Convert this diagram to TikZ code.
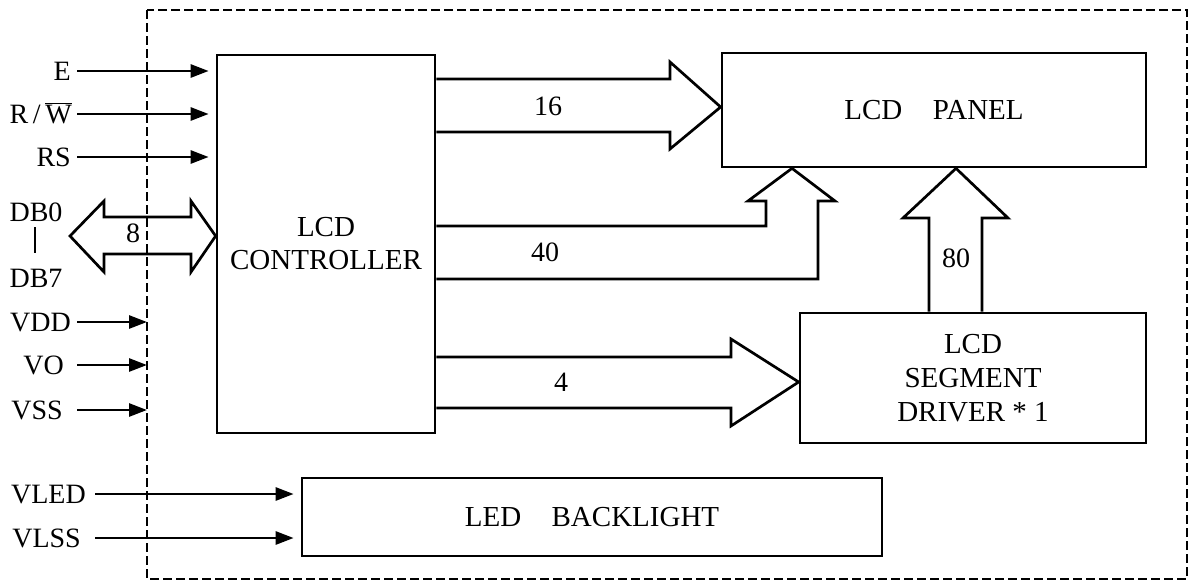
\documentclass[tikz,border=0pt]{standalone}
\usepackage{fontspec}
\setmainfont{Liberation Serif}
\usetikzlibrary{arrows.meta}
\begin{document}
\begin{tikzpicture}[x=1pt,y=-1pt,
  box/.style={draw,line width=2.7pt,inner sep=0pt,align=center,font=\fontsize{29}{33}\selectfont},
  lbl/.style={font=\fontsize{28}{32}\selectfont,inner sep=0pt},
  sig/.style={line width=2.7pt,-{Triangle[length=18pt,width=13pt]}},
  bus/.style={line width=2.7pt,line join=miter}]
\useasboundingbox (0,0) rectangle (1192,581);
\draw[line width=2.4pt,dash pattern=on 9pt off 4pt] (147,10) rectangle (1187,579);
% boxes
\node[box,minimum width=218pt,minimum height=378pt] (ctrl) at (326,244) {LCD\\CONTROLLER};
\node[box,minimum width=424pt,minimum height=114pt] (panel) at (934,110) {LCD\hspace{1.05em}PANEL};
\node[box,minimum width=346pt,minimum height=130pt,font=\fontsize{29}{34}\selectfont] (drv) at (973,378) {LCD\\SEGMENT\\DRIVER * 1};
\node[box,minimum width=580pt,minimum height=78pt] (bl) at (592,517) {LED\hspace{1.05em}BACKLIGHT};
% left labels
\node[lbl,anchor=base east] (tE) at (71,80) {E};
\node[lbl,anchor=base east] (tRW) at (72,123) {R\,/\,$\overline{\hbox{W}}$};
\node[lbl,anchor=base east] (tRS) at (71,166) {RS};
\node[lbl,anchor=base] (tDB0) at (36,221) {DB0};
\node[lbl,anchor=base] (tDB7) at (36,287) {DB7};
\node[lbl,anchor=base east] (tVDD) at (71,331) {VDD};
\node[lbl,anchor=base east] (tVO) at (64,374) {VO};
\node[lbl,anchor=base east] (tVSS) at (63,419) {VSS};
\node[lbl,anchor=base east] (tVLED) at (86,503) {VLED};
\node[lbl,anchor=base east] (tVLSS) at (81,547) {VLSS};
\coordinate (sE) at (77,71);
\coordinate (sRW) at (77,114);
\coordinate (sRS) at (77,157);
\coordinate (sVDD) at (77,322);
\coordinate (sVO) at (77,365);
\coordinate (sVSS) at (77,410);
\coordinate (sVLED) at (95,494);
\coordinate (sVLSS) at (95,538);
\coordinate (bdr) at (147,300);
\draw[sig,shorten >=7pt] (sE) -- (sE -| ctrl.west);
\draw[sig,shorten >=7pt] (sRW) -- (sRW -| ctrl.west);
\draw[sig,shorten >=7pt] (sRS) -- (sRS -| ctrl.west);
\draw[sig] (sVDD) -- (sVDD -| bdr);
\draw[sig] (sVO) -- (sVO -| bdr);
\draw[sig] (sVSS) -- (sVSS -| bdr);
\draw[sig,shorten >=7pt] (sVLED) -- (sVLED -| bl.west);
\draw[sig,shorten >=7pt] (sVLSS) -- (sVLSS -| bl.west);
\draw[line width=2.7pt] (35,227) -- (35,253);
% DB bus
\draw[bus] (70,236) -- (104,201) -- (104,217) -- (191,217) -- (191,201) -- (ctrl.west |- 0,236) -- (191,272) -- (191,254) -- (104,254) -- (104,272) -- cycle;
\node[lbl] (l8) at (133,233) {8};
% 16 bus
\draw[bus] (ctrl.east |- 0,79) -- (670,79) -- (670,62) -- (panel.west |- 0,107) -- (670,149) -- (670,132) -- (ctrl.east |- 0,132);
\node[lbl] (l16) at (548,106) {16};
% 40 bus
\draw[bus] (ctrl.east |- 0,226) -- (766,226) -- (766,201) -- (748,201) -- (panel.south -| 792,0) -- (835,201) -- (818,201) -- (818,279) -- (ctrl.east |- 0,279);
\node[lbl] (l40) at (545,252) {40};
% 4 bus
\draw[bus] (ctrl.east |- 0,357) -- (731,357) -- (731,339) -- (drv.west |- 0,382) -- (731,426) -- (731,408) -- (ctrl.east |- 0,408);
\node[lbl] (l4) at (561,382) {4};
% 80 bus
\draw[bus] (drv.north -| 929,0) -- (929,218) -- (903,218) -- (panel.south -| 956,0) -- (1008,218) -- (982,218) -- (drv.north -| 982,0);
\node[lbl] (l80) at (956,258) {80};
\end{tikzpicture}
\end{document}
